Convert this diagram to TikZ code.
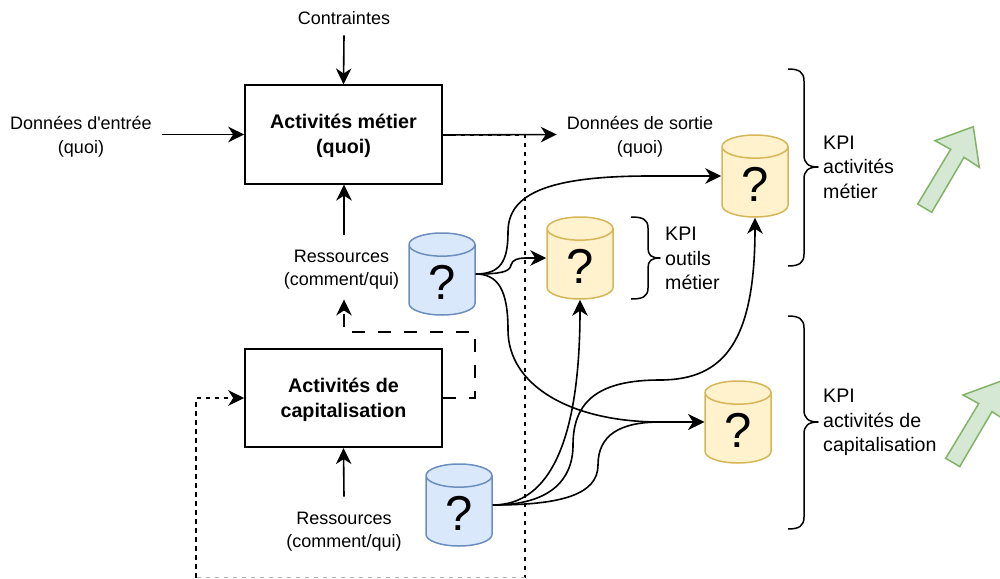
\documentclass[tikz,border=0pt]{standalone}
\usepackage{fontspec}
\setmainfont{Liberation Sans}
\newfontfamily\rawfont{Liberation Sans}
\usetikzlibrary{arrows.meta,shapes.geometric}
\definecolor{bluefill}{HTML}{DAE8FC}
\definecolor{bluedraw}{HTML}{6C8EBF}
\definecolor{yelfill}{HTML}{FFF2CC}
\definecolor{yeldraw}{HTML}{D6B656}
\definecolor{grnfill}{HTML}{D5E8D4}
\definecolor{grndraw}{HTML}{82B366}
\newcommand{\toplab}{\rule{0pt}{17.5pt}}
\newcommand{\topbold}{\rule{0pt}{17.5pt}}
\newcommand{\cylsize}{\phantom{\fontsize{49}{49}\selectfont ?}}
\tikzset{
  tip/.style={-{Stealth[length=16pt,width=15.5pt,inset=5pt]}},
  conn/.style={line width=1.6pt,tip},
  smalldash/.style={line width=1.5pt,dash pattern=on 4.5pt off 4.5pt},
  bigdash/.style={line width=1.5pt,dash pattern=on 13pt off 13pt},
  fadedash/.style={line width=1pt,draw=black!30,dash pattern=on 4.5pt off 4.5pt},
  actbox/.style={draw,line width=1.6pt,fill=white,minimum width=197pt,minimum height=98.5pt,inner sep=0pt,align=center,font=\fontsize{19.7}{24.7}\selectfont\bfseries},
  lab/.style={inner sep=10pt,align=center,font=\rawfont\fontsize{18}{23.3}\selectfont},
  kpi/.style={inner sep=0pt,anchor=west,align=left,font=\fontsize{19.6}{24.5}\selectfont},
  cyl/.style={cylinder,shape border rotate=90,anchor=shape center,draw,line width=1.5pt,minimum width=66pt,minimum height=82pt,inner sep=0pt,aspect=0.85},
  bluecyl/.style={cyl,fill=bluefill,draw=bluedraw},
  yelcyl/.style={cyl,fill=yelfill,draw=yeldraw},
  qmark/.style={inner sep=0pt,font=\fontsize{49}{49}\selectfont},
  brace/.style={line width=1.5pt,line join=round},
  bigarrow/.style={draw=grndraw,fill=grnfill,line width=1.5pt,line join=miter}
}
\begin{document}
\begin{tikzpicture}[x=1pt,y=-1pt]
\useasboundingbox (0,0) rectangle (1000,578);
% boxes
\node[actbox] (m) at (343.5,134.5) {\topbold Activités métier\\(quoi)};
\node[actbox] (c) at (343.5,398) {\topbold Activités de\\capitalisation};
% labels
\node[lab] (contraintes) at (344,18.5) {Contraintes};
\node[lab] (entree) at (81,134.5) {\toplab Données d'entrée\\(quoi)};
\node[lab] (sortie) at (640,134.5) {\toplab Données de sortie\\(quoi)};
\node[lab] (res1) at (341.5,267) {\toplab Ressources\\(comment/qui)};
\node[lab] (res2) at (344,529) {\toplab Ressources\\(comment/qui)};
% cylinders
\node[bluecyl] (b1) at (442,274) {\cylsize};
\node[bluecyl] (b2) at (459,505) {\cylsize};
\node[yelcyl] (y1) at (580,258) {\cylsize};
\node[yelcyl] (y2) at (755,176) {\cylsize};
\node[yelcyl] (y3) at (738,422) {\cylsize};
\node[qmark] (q1) at (442,282) {?};
\node[qmark] (q2) at (459,513) {?};
\node[qmark] (q3) at (580,266) {?};
\node[qmark] (q4) at (755,184) {?};
\node[qmark] (q5) at (738,430) {?};
% dashed routes
\coordinate (d1) at (525,577.5);
\coordinate (d2) at (196,577.5);
\draw[smalldash] (m.east) ++(0,0.5) -| (d1);
\draw[fadedash] (d1) -- (d2);
\draw[smalldash,tip] (d2) |- (c.west);
\coordinate (e1) at (475,398);
\coordinate (e2) at (475,332);
\coordinate (e3) at (344,332);
\draw[bigdash,tip] (c.east) -- (e1) -- (e2) -- (e3) -- (e3 |- res1.south);
% solid straight
\draw[conn] (contraintes.south) -- (m.north);
\draw[conn] (entree.east |- m.west) -- (m.west);
\draw[conn] (m.east) ++(0,0.5) -- (sortie.west |- m.west);
\draw[conn] (e3 |- res1.north) -- (e3 |- m.south);
\draw[conn] (res2.north) -- (c.south);
% curves
\draw[conn] (b1.shape center -| b1.east) .. controls (500,274) and (508,262) .. (508,232) .. controls (508,195) and (545,176) .. (650,176) -- (y2.shape center -| y2.west);
\draw[conn] (b1.shape center -| b1.east) .. controls (500,274) and (510,272) .. (511,265) .. controls (512,260) and (518,258) .. (525,258) -- (y1.shape center -| y1.west);
\draw[conn] (b1.shape center -| b1.east) .. controls (498,274) and (508,290) .. (508,330) .. controls (508,385) and (570,422) .. (660,422) -- (y3.shape center -| y3.west);
\draw[conn] (b2.shape center -| b2.east) .. controls (550,505) and (580,440) .. (y1.south);
\draw[conn] (b2.shape center -| b2.east) .. controls (550,505) and (573,480) .. (573,445) .. controls (573,400) and (600,380) .. (660,380) .. controls (725,380) and (755,340) .. (y2.south);
\draw[conn] (b2.shape center -| b2.east) .. controls (560,505) and (598,495) .. (598,465) .. controls (598,435) and (620,422) .. (660,422) -- (y3.shape center -| y3.west);
% braces
\draw[brace] (631,217) .. controls (642,217) and (648,219) .. (648,228) -- (648,248) .. controls (648,255) and (651,258) .. (660,258) .. controls (651,258) and (648,261) .. (648,268) -- (648,288) .. controls (648,297) and (642,299) .. (631,299);
\draw[brace] (788,69) .. controls (799,69) and (804,72) .. (804,81) -- (804,155) .. controls (804,163) and (808,167) .. (818,167) .. controls (808,167) and (804,171) .. (804,179) -- (804,254) .. controls (804,263) and (799,266) .. (788,266);
\draw[brace] (788,316) .. controls (799,316) and (804,319) .. (804,328) -- (804,410) .. controls (804,418) and (808,422) .. (818,422) .. controls (808,422) and (804,426) .. (804,434) -- (804,517) .. controls (804,526) and (799,529) .. (788,529);
% KPI
\node[kpi] (k1) at (665,258.5) {KPI\\outils\\métier};
\node[kpi] (k2) at (823,167) {KPI\\activités\\métier};
\node[kpi] (k3) at (823,422.5) {KPI\\activités de\\capitalisation};
% green arrows
\path[bigarrow] (917.7,204) -- (950.7,149.3) -- (935,140.7) -- (973.3,126.7) -- (979.3,167.3) -- (964,157.3) -- (931.7,212.3) -- cycle;
\begin{scope}
\clip (0,0) rectangle (1000,578);
\path[bigarrow] (945.7,458.3) -- (978.7,403.6) -- (963,395) -- (1001.3,381) -- (1007.3,421.6) -- (992,411.6) -- (959.7,466.6) -- cycle;
\end{scope}
\end{tikzpicture}
\end{document}
